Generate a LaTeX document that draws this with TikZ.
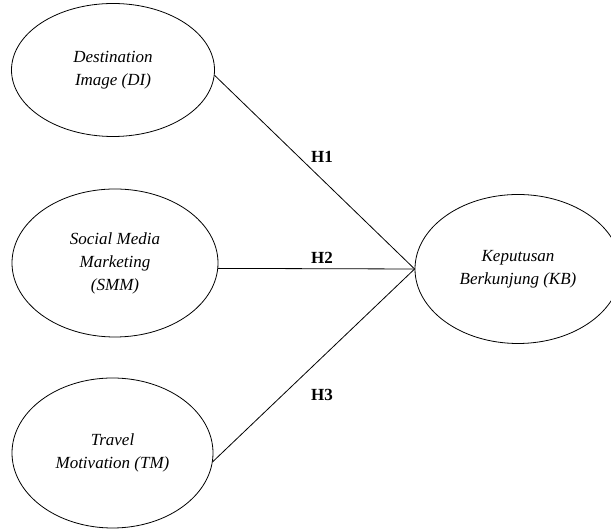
\documentclass[tikz,border=0pt]{standalone}
\usepackage{fontspec}
\setmainfont{Liberation Serif}
\usetikzlibrary{shapes.geometric}
\begin{document}
\begin{tikzpicture}[x=1pt,y=1pt,
  var/.style={draw, ellipse, line width=0.8pt, inner sep=0pt, align=center,
    font=\fontsize{17}{23}\selectfont\itshape},
  hyp/.style={font=\fontsize{17}{20}\selectfont\bfseries, inner sep=0pt},
  link/.style={line width=0.8pt}]
\clip (0,0) rectangle (611,529);
\useasboundingbox (0,0) rectangle (611,529);
\node[var, minimum width=203pt, minimum height=133pt] (DI) at (113,459) {Destination\\Image (DI)};
\node[var, minimum width=206pt, minimum height=148pt] (SMM) at (115,266) {Social Media\\Marketing\\(SMM)};
\node[var, minimum width=201pt, minimum height=150pt] (TM) at (112.5,76) {Travel\\Motivation (TM)};
\node[var, minimum width=206pt, minimum height=149pt] (KB) at (518,260) {Keputusan\\Berkunjung (KB)};
\draw[link] (DI.-3) -- (KB.west);
\draw[link] (SMM.-3) -- (KB.west);
\draw[link] (TM.-5) -- (KB.west);
\node[hyp] (H1) at (322,372) {H1};
\node[hyp] (H2) at (322,271) {H2};
\node[hyp] (H3) at (322,134) {H3};
\end{tikzpicture}
\end{document}
